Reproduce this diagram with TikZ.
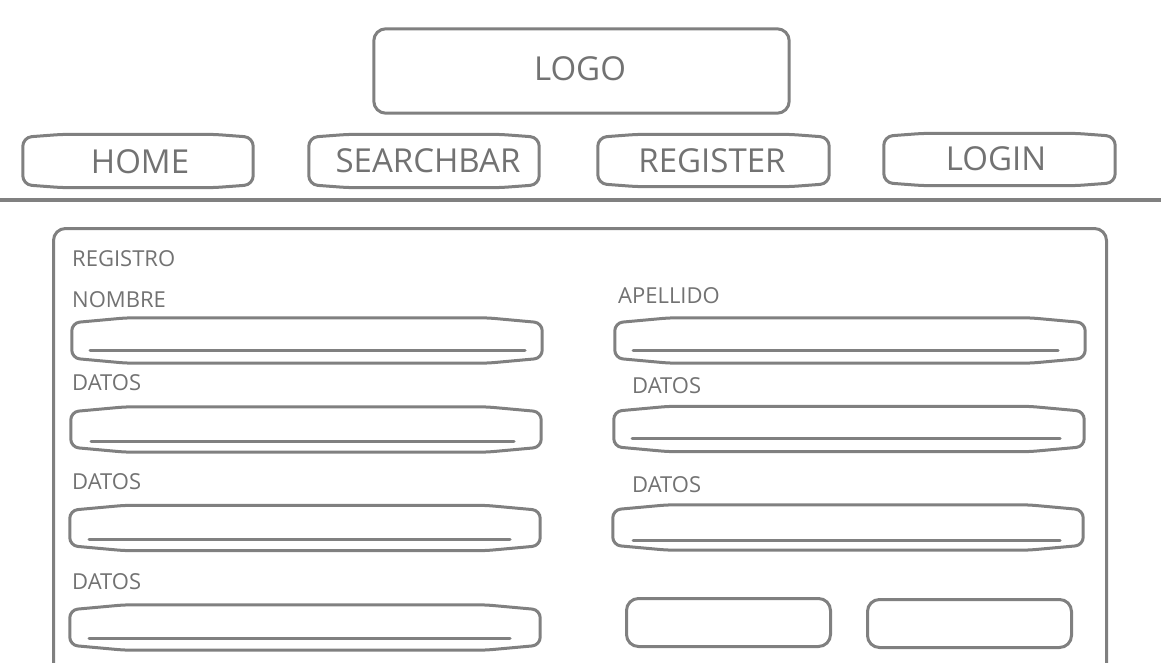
\documentclass[tikz,border=0pt]{standalone}
\usepackage{fontspec}
\setmainfont{Open Sans}
\usetikzlibrary{calc}
\definecolor{linegray}{HTML}{808080}
\definecolor{textgray}{HTML}{727272}
\tikzset{
  sk/.style={draw=linegray, line width=3pt},
  navbox/.style={inner sep=0pt},
  navtxt/.style={text=textgray, font=\fontsize{33}{33}\selectfont, inner sep=0pt},
  field/.style={inner sep=0pt, minimum width=470pt, minimum height=45pt},
  btn/.style={sk, rounded corners=12pt, inner sep=0pt, minimum width=204pt, minimum height=48pt},
  lbl/.style={anchor=west, inner sep=0pt, text=textgray, font=\fontsize{22}{22}\selectfont},
  uline/.style={draw=linegray, line width=3pt, line cap=round},
}
% sketchy outline inside a node: #1 name, #2 end offset (down/up), #3 inset, #4 radius
\newcommand\skbox[4]{%
  \draw[sk, rounded corners=#4]
    ($(#1.north west)+(0,#2)$) -- ($(#1.north west)+(#3,0)$) --
    ($(#1.north east)+(-#3,0)$) -- ($(#1.north east)+(0,#2)$) --
    ($(#1.south east)+(0,-#2)$) -- ($(#1.south east)+(-#3,0)$) --
    ($(#1.south west)+(#3,0)$) -- ($(#1.south west)+(0,-#2)$) -- cycle;}
\begin{document}
\begin{tikzpicture}[x=1pt,y=-1pt]
\useasboundingbox[fill=white] (0,0) rectangle (1161,663);
% header
\node[navbox, minimum width=415pt, minimum height=84pt] (logo) at (581.5,71) {};
\draw[sk, rounded corners=12pt] (logo.north west) rectangle (logo.south east);
\node[navtxt] (logot) at (580,69) {LOGO};
\node[navbox, minimum width=230pt, minimum height=53pt] (home) at (138,161) {};
\skbox{home}{3}{40}{9pt}
\node[navtxt] (homet) at (140,162) {HOME};
\node[navbox, minimum width=230pt, minimum height=53pt] (search) at (424,161) {};
\skbox{search}{3}{40}{9pt}
\node[navtxt] (searcht) at (428,161) {SEARCHBAR};
\node[navbox, minimum width=231pt, minimum height=52pt] (reg) at (713.5,160.5) {};
\skbox{reg}{3}{40}{9pt}
\node[navtxt] (regt) at (712,161) {REGISTER};
\node[navbox, minimum width=231pt, minimum height=52pt] (login) at (999.5,159.5) {};
\skbox{login}{3}{40}{9pt}
\node[navtxt] (logint) at (996,159) {LOGIN};
% separator
\coordinate (sepL) at (0,200);
\coordinate (sepR) at (1161,200);
\draw[sk] (sepL) -- (sepR);
% panel
\coordinate (pBL) at (53.5,680);
\coordinate (pTL) at (53.5,228.5);
\coordinate (pTR) at (1106.5,228.5);
\coordinate (pBR) at (1106.5,680);
\draw[sk, rounded corners=12pt] (pBL) -- (pTL) -- (pTR) -- (pBR);
% labels
\node[lbl] (registro) at (72,259) {REGISTRO};
\node[lbl] (nombre) at (72,300) {NOMBRE};
\node[lbl] (apellido) at (618,296) {APELLIDO};
\node[lbl] (d1) at (72,383) {DATOS};
\node[lbl] (d2) at (72,482) {DATOS};
\node[lbl] (d3) at (72,582) {DATOS};
\node[lbl] (d4) at (632,386) {DATOS};
\node[lbl] (d5) at (632,485) {DATOS};
% left fields
\node[field] (fl1) at (307,340.5) {};
\node[field] (fl2) at (306,429.5) {};
\node[field] (fl3) at (305,528) {};
\node[field] (fl4) at (305,627.5) {};
% right fields
\node[field] (fr1) at (850,340.5) {};
\node[field] (fr2) at (849,429) {};
\node[field] (fr3) at (848,527.5) {};
\foreach \f in {fl1,fl2,fl3,fl4,fr1,fr2,fr3} {\skbox{\f}{5}{55}{8pt}}
% underlines
\coordinate (u1a) at (90,350); \coordinate (u1b) at (525,350);
\coordinate (u2a) at (91,441); \coordinate (u2b) at (514,441);
\coordinate (u3a) at (89,539); \coordinate (u3b) at (510,539);
\coordinate (u4a) at (89,638); \coordinate (u4b) at (510,638);
\coordinate (u5a) at (633,350); \coordinate (u5b) at (1058,350);
\coordinate (u6a) at (632,438); \coordinate (u6b) at (1060,438);
\coordinate (u7a) at (633,540); \coordinate (u7b) at (1060,540);
\draw[uline] (u1a) -- (u1b);
\draw[uline] (u2a) -- (u2b);
\draw[uline] (u3a) -- (u3b);
\draw[uline] (u4a) -- (u4b);
\draw[uline] (u5a) -- (u5b);
\draw[uline] (u6a) -- (u6b);
\draw[uline] (u7a) -- (u7b);
% buttons
\node[btn] (b1) at (728.5,622.5) {};
\node[btn] (b2) at (969.5,623.5) {};
\end{tikzpicture}
\end{document}
